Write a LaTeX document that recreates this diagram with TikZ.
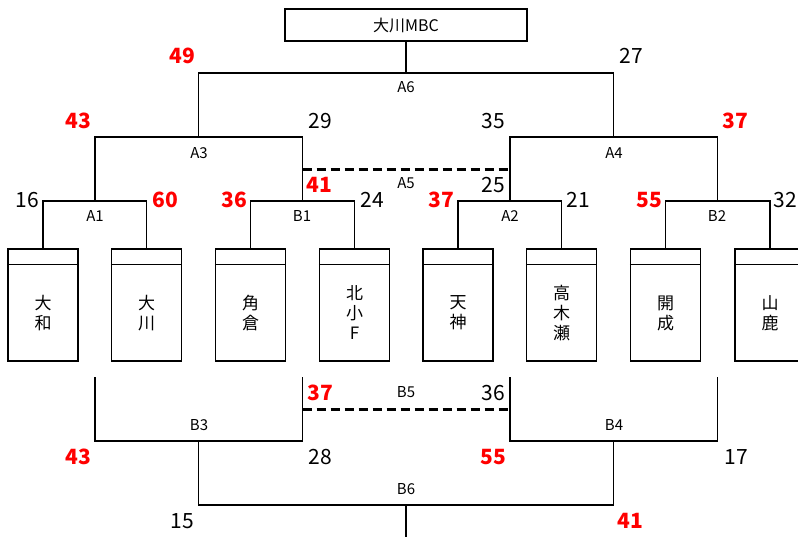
\documentclass[tikz,border=0pt]{standalone}
\usepackage{fontspec}
\setmainfont{Noto Sans CJK JP}
\tikzset{
  team/.style={draw, minimum width=70pt, minimum height=112pt, inner sep=0pt},
  clubname/.style={font=\fontsize{17}{20}\selectfont, align=center},
  matchname/.style={font=\fontsize{15}{18}\selectfont},
  win/.style={font=\fontsize{21}{24}\selectfont\bfseries, text=red},
  lose/.style={font=\fontsize{21}{24}\selectfont},
  thirdplace/.style={line width=3pt, dash pattern=on 9pt off 5pt},
}
\begin{document}
\begin{tikzpicture}[x=1pt, y=-1pt, line width=1.4pt]
  \useasboundingbox (0,0) rectangle (798,536);

  % champion
  \node[draw, minimum width=242pt, minimum height=32pt,
    font=\fontsize{16}{18}\selectfont] (champ) at (406,25) {大川MBC};

  % teams
  \foreach \x/\nm [count=\i] in {43/{大\\和}, 146.5/{大\\川}, 250.5/{角\\倉},
    354.5/{北\\小\\F}, 458/{天\\神}, 561.5/{高\\木\\瀬}, 665.5/{開\\成},
    770/{山\\鹿}}
  {
    \node[team] (t\i) at (\x,305) {};
    \draw ([yshift=-16pt]t\i.north west) -- ([yshift=-16pt]t\i.north east);
    \node[clubname] (c\i) at ([yshift=-8pt]t\i.center) {\nm};
  }

  % first round
  \coordinate (A1) at (95,201);
  \coordinate (B1) at (302.5,201);
  \coordinate (A2) at (510,201);
  \coordinate (B2) at (717.5,201);
  \draw (t1.north) |- (A1) -| (t2.north);
  \draw (t3.north) |- (B1) -| (t4.north);
  \draw (t5.north) |- (A2) -| (t6.north);
  \draw (t7.north) |- (B2) -| (t8.north);

  % semi final and final
  \coordinate (A3) at (198.5,137);
  \coordinate (A4) at (613.5,137);
  \coordinate (A6) at (406,73);
  \draw (A1) |- (A3) -| (B1);
  \draw (A2) |- (A4) -| (B2);
  \draw (A3) |- (A6) -| (A4);
  \draw (A6) -- (champ.south);

  % A5
  \coordinate (A5w) at (302.5,169);
  \coordinate (A5e) at (510,169);
  \draw[thirdplace] (A5w) -- (A5e);

  % lower bracket
  \coordinate (la1) at (95,377);
  \coordinate (lb1) at (302.5,377);
  \coordinate (la2) at (510,377);
  \coordinate (lb2) at (717.5,377);
  \coordinate (B3) at (198.5,441);
  \coordinate (B4) at (613.5,441);
  \coordinate (B6) at (406,505);
  \coordinate (B6s) at (406,540);
  \draw (la1) |- (B3) -| (lb1);
  \draw (la2) |- (B4) -| (lb2);
  \draw (B3) |- (B6) -| (B4);
  \draw (B6) -- (B6s);

  % B5
  \coordinate (B5w) at (302.5,409);
  \coordinate (B5e) at (510,409);
  \draw[thirdplace] (B5w) -- (B5e);

  % match names
  \foreach \m/\x/\y in {A6/406/87, A3/199/153, A4/614/153, A5/406/183,
    A1/95/216, B1/302/216, A2/510/216, B2/717/216, B5/406/392,
    B3/199/425, B4/614/425, B6/406/489}
    \node[matchname] (m\m) at (\x,\y) {\m};

  % scores
  \foreach \s/\x/\y [count=\i] in {49/182/56, 43/78/121, 37/735/121,
    60/165/200, 36/234/200, 41/319/185, 37/441/200, 55/649/200,
    37/320/393, 43/78/457, 55/493/457, 41/630/521}
    \node[win] (w\i) at (\x,\y) {\s};
  \foreach \s/\x/\y [count=\i] in {27/631/56, 29/320/121, 35/493/121,
    16/27/200, 24/372/200, 25/493/185, 21/578/200, 32/785/200,
    36/493/393, 28/320/457, 17/736/457, 15/182/521}
    \node[lose] (l\i) at (\x,\y) {\s};
\end{tikzpicture}
\end{document}
